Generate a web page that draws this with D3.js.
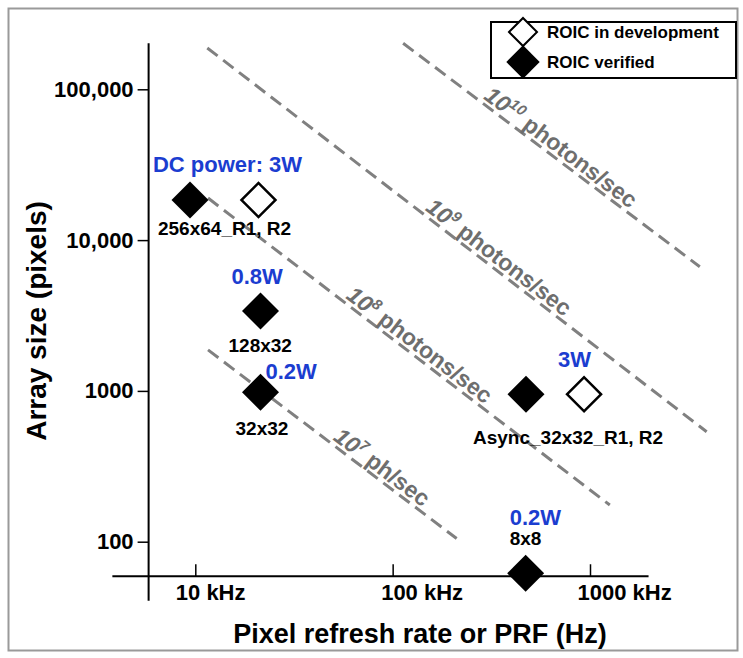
<!DOCTYPE html>
<html>
<head>
<meta charset="utf-8">
<script src="https://cdn.jsdelivr.net/npm/d3@7"></script>
<style>
  body { margin: 0; background: #fff; }
  svg { font-family: Arial, "Liberation Sans", sans-serif; font-weight: bold; }
</style>
</head>
<body>
<div id="chart"></div>
<script>
// ROIC chips: pixel refresh rate (kHz) vs array size (pixels)
const chipNames = ["256x64_R1", "256x64_R2", "128x32", "32x32", "Async_32x32_R1", "Async_32x32_R2", "8x8"];
const chipRates = [9.4, 20.9, 21.4, 21.4, 474, 933, 472];
const chipSizes = [18450, 18450, 3390, 980, 950, 950, 61.7];
const chipVerified = [true, false, true, true, true, false, true];

// constant photon-rate guide lines, start / end as (kHz, pixels)
const photonExponents = ["10", "9", "8", "7"];
const photonUnits = ["photons/sec", "photons/sec", "photons/sec", "ph/sec"];
const lineStartRates = [113, 11.5, 11.6, 11.6];
const lineStartSizes = [202000, 188000, 19000, 1870];
const lineEndRates = [3600, 3900, 1260, 211];
const lineEndSizes = [6660, 536, 175, 105];

// axes
const xTickValues = [10, 100, 1000];
const xTickLabels = ["10 kHz", "100 kHz", "1000 kHz"];
const yTickValues = [100, 1000, 10000, 100000];
const yTickLabels = ["100", "1000", "10,000", "100,000"];
const xAxisExtent = [3.8, 1980];
const yAxisExtent = [40.6, 202000];
const xAxisCross = 59;
const yAxisCross = 5.8;

// annotations, attached to a chip index
const powerLabels = ["DC power: 3W", "0.8W", "0.2W", "3W", "0.2W"];
const powerChips = [0, 2, 3, 4, 6];
const sizeLabels = ["256x64_R1, R2", "128x32", "32x32", "Async_32x32_R1, R2", "8x8"];
const sizeChips = [0, 2, 3, 4, 6];
const legendLabels = ["ROIC in development", "ROIC verified"];

const width = 743, height = 658;
const blue = "#1b3dd0", grey = "#808080";

const svg = d3.select("#chart")
    .append("svg")
    .attr("width", width)
    .attr("height", height);

// outer frame
svg.append("rect")
    .attr("x", 8.5)
    .attr("y", 8.5)
    .attr("width", 729)
    .attr("height", 642)
    .attr("fill", "none")
    .attr("stroke", "#9a9a9a")
    .attr("stroke-width", 2);

const x = d3.scaleLog().domain([10, 1000]).range([195.3, 590]);
const y = d3.scaleLog().domain([100, 100000]).range([541.7, 89.3]);

// photon rate lines
const line = d3.line().x(d => x(d[0])).y(d => y(d[1]));
const guides = photonExponents.map((e, i) => ({
    exp: e,
    unit: photonUnits[i],
    pts: [[lineStartRates[i], lineStartSizes[i]], [lineEndRates[i], lineEndSizes[i]]]
}));
const labelAt = [0.26, 0.43, 0.335, 0.49];

svg.append("g")
    .selectAll("path")
    .data(guides)
    .join("path")
    .attr("d", d => line(d.pts))
    .attr("fill", "none")
    .attr("stroke", grey)
    .attr("stroke-width", 3)
    .attr("stroke-dasharray", "13,7");

guides.forEach(function (g, i) {
    let x0 = x(g.pts[0][0]), y0 = y(g.pts[0][1]);
    let x1 = x(g.pts[1][0]), y1 = y(g.pts[1][1]);
    let t = labelAt[i];
    let angle = Math.atan2(y1 - y0, x1 - x0) * 180 / Math.PI;
    let txt = svg.append("text")
        .attr("transform", `translate(${x0 + (x1 - x0) * t},${y0 + (y1 - y0) * t}) rotate(${angle})`)
        .attr("dy", -4)
        .attr("fill", "#6e6e6e")
        .style("font-size", "23px");
    txt.append("tspan")
        .style("font-style", "italic")
        .text("10");
    txt.append("tspan")
        .attr("dy", -9)
        .style("font-size", "15px")
        .style("font-style", "italic")
        .text(g.exp);
    txt.append("tspan")
        .attr("dy", 9)
        .text(" " + g.unit);
});

// axes
const xAxis = svg.append("g")
    .attr("transform", `translate(0,${y(xAxisCross)})`)
    .call(d3.axisBottom(x)
        .tickValues(xTickValues)
        .tickSizeInner(-12)
        .tickSizeOuter(0)
        .tickFormat((d, i) => xTickLabels[i]));
xAxis.select(".domain").remove();
xAxis.selectAll(".tick line").attr("stroke", "#000").attr("stroke-width", 1.5);
const xLabelShift = [-20, -12, -13];
xAxis.selectAll(".tick text")
    .attr("text-anchor", "start")
    .attr("dx", (d, i) => xLabelShift[i])
    .attr("y", 24)
    .attr("dy", 0)
    .attr("fill", "#000")
    .style("font-size", "22px")
    .style("font-family", "Arial, 'Liberation Sans', sans-serif");
xAxis.append("line")
    .attr("x1", x(xAxisExtent[0]))
    .attr("x2", x(xAxisExtent[1]))
    .attr("stroke", "#000")
    .attr("stroke-width", 2);

const yAxis = svg.append("g")
    .attr("transform", `translate(${x(yAxisCross)},0)`)
    .call(d3.axisLeft(y)
        .tickValues(yTickValues)
        .tickSizeInner(11)
        .tickSizeOuter(0)
        .tickPadding(4)
        .tickFormat((d, i) => yTickLabels[i]));
yAxis.select(".domain").remove();
yAxis.selectAll(".tick line").attr("stroke", "#000").attr("stroke-width", 1.5);
yAxis.selectAll(".tick text")
    .attr("fill", "#000")
    .style("font-size", "22px")
    .style("font-family", "Arial, 'Liberation Sans', sans-serif");
yAxis.append("line")
    .attr("y1", y(yAxisExtent[0]))
    .attr("y2", y(yAxisExtent[1]))
    .attr("stroke", "#000")
    .attr("stroke-width", 2);

// axis titles
svg.append("text")
    .attr("x", 420)
    .attr("y", 643)
    .attr("text-anchor", "middle")
    .style("font-size", "27px")
    .text("Pixel refresh rate or PRF (Hz)");
svg.append("text")
    .attr("transform", "translate(46,321) rotate(-90)")
    .attr("text-anchor", "middle")
    .style("font-size", "28px")
    .text("Array size (pixels)");

// diamond markers
const diamond = area => d3.symbol(d3.symbolSquare, area)();
const chips = chipNames.map((n, i) => ({
    name: n, rate: chipRates[i], size: chipSizes[i], verified: chipVerified[i]
}));
svg.append("g")
    .selectAll("path")
    .data(chips)
    .join("path")
    .attr("d", d => diamond(d.verified ? 684 : 578))
    .attr("transform", d => `translate(${x(d.rate)},${y(d.size)}) rotate(45)`)
    .attr("fill", d => d.verified ? "#000" : "#fff")
    .attr("stroke", "#000")
    .attr("stroke-width", d => d.verified ? 0 : 2.5);

// power and size annotations
const powerShift = [[-37, -28], [-29, -27], [5, -13], [32, -27], [-16, -48]];
powerLabels.forEach(function (p, i) {
    let c = chips[powerChips[i]];
    svg.append("text")
        .attr("x", x(c.rate) + powerShift[i][0])
        .attr("y", y(c.size) + powerShift[i][1])
        .attr("fill", blue)
        .style("font-size", "22px")
        .text(p);
});
const sizeShift = [[-32, 35], [-32, 41], [-25, 43], [-53, 50], [-16, -28]];
sizeLabels.forEach(function (s, i) {
    let c = chips[sizeChips[i]];
    svg.append("text")
        .attr("x", x(c.rate) + sizeShift[i][0])
        .attr("y", y(c.size) + sizeShift[i][1])
        .attr("fill", "#000")
        .style("font-size", "19px")
        .text(s);
});

// legend
const legend = svg.append("g").attr("transform", "translate(491,22)");
legend.append("rect")
    .attr("width", 245)
    .attr("height", 56)
    .attr("fill", "#fff")
    .attr("stroke", "#000")
    .attr("stroke-width", 2);
legendLabels.forEach(function (l, i) {
    let row = legend.append("g").attr("transform", `translate(32,${10 + i * 30})`);
    row.append("path")
        .attr("d", diamond(i === 0 ? 392 : 557))
        .attr("transform", "rotate(45)")
        .attr("fill", i === 0 ? "#fff" : "#000")
        .attr("stroke", "#000")
        .attr("stroke-width", i === 0 ? 2 : 0);
    row.append("text")
        .attr("x", 24)
        .attr("y", 6)
        .style("font-size", "17px")
        .text(l);
});
</script>
</body>
</html>
